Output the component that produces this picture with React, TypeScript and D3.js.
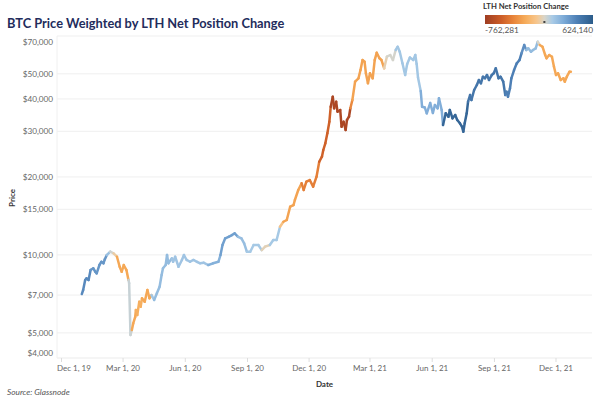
import React from "react";
import * as d3 from "d3";

// ---- data ----
const dates: string[] = [
  "2019-12-31","2020-01-02","2020-01-05","2020-01-07","2020-01-10","2020-01-13","2020-01-17","2020-01-20","2020-01-22","2020-01-26",
  "2020-01-29","2020-02-01","2020-02-03","2020-02-06","2020-02-11","2020-02-16","2020-02-21","2020-02-25","2020-02-28","2020-03-02",
  "2020-03-06","2020-03-09","2020-03-10","2020-03-12","2020-03-14","2020-03-16","2020-03-19","2020-03-20","2020-03-22","2020-03-25",
  "2020-03-27","2020-03-29","2020-04-02","2020-04-06","2020-04-09","2020-04-12","2020-04-16","2020-04-20","2020-04-24","2020-04-27",
  "2020-04-29","2020-05-03","2020-05-05","2020-05-07","2020-05-12","2020-05-14","2020-05-17","2020-05-22","2020-05-27","2020-05-30",
  "2020-06-03","2020-06-08","2020-06-13","2020-06-18","2020-06-23","2020-06-28","2020-07-05","2020-07-12","2020-07-20","2020-07-23",
  "2020-07-26","2020-07-30","2020-08-04","2020-08-09","2020-08-13","2020-08-18","2020-08-23","2020-08-27","2020-08-31","2020-09-05",
  "2020-09-10","2020-09-17","2020-09-22","2020-09-27","2020-10-04","2020-10-09","2020-10-14","2020-10-19","2020-10-24","2020-10-29",
  "2020-11-03","2020-11-08","2020-11-10","2020-11-15","2020-11-20","2020-11-23","2020-11-27","2020-12-02","2020-12-07","2020-12-12",
  "2020-12-16","2020-12-20","2020-12-22","2020-12-25","2020-12-28","2020-12-31","2021-01-02","2021-01-05","2021-01-07","2021-01-10",
  "2021-01-12","2021-01-16","2021-01-18","2021-01-21","2021-01-24","2021-01-26","2021-01-29","2021-01-31","2021-02-03","2021-02-07",
  "2021-02-12","2021-02-15","2021-02-18","2021-02-21","2021-02-23","2021-02-26","2021-03-01","2021-03-05","2021-03-08","2021-03-11",
  "2021-03-15","2021-03-18","2021-03-22","2021-03-26","2021-03-31","2021-04-04","2021-04-08","2021-04-11","2021-04-14","2021-04-18",
  "2021-04-22","2021-04-25","2021-04-29","2021-05-04","2021-05-07","2021-05-09","2021-05-11","2021-05-15","2021-05-17","2021-05-21",
  "2021-05-24","2021-05-29","2021-06-02","2021-06-05","2021-06-09","2021-06-11","2021-06-15","2021-06-17","2021-06-21","2021-06-25",
  "2021-06-27","2021-07-01","2021-07-05","2021-07-08","2021-07-12","2021-07-15","2021-07-17","2021-07-19","2021-07-22","2021-07-24",
  "2021-07-27","2021-07-29","2021-08-02","2021-08-06","2021-08-09","2021-08-12","2021-08-15","2021-08-18","2021-08-21","2021-08-24",
  "2021-08-28","2021-08-31","2021-09-03","2021-09-07","2021-09-10","2021-09-14","2021-09-17","2021-09-19","2021-09-21","2021-09-24",
  "2021-09-26","2021-09-30","2021-10-04","2021-10-08","2021-10-11","2021-10-15","2021-10-18","2021-10-21","2021-10-25","2021-10-28",
  "2021-11-01","2021-11-04","2021-11-07","2021-11-11","2021-11-15","2021-11-17","2021-11-21","2021-11-25","2021-11-28","2021-12-01",
  "2021-12-04","2021-12-08","2021-12-12","2021-12-14","2021-12-17","2021-12-21","2021-12-23",
];

const prices: number[] = [
  7060,7320,8000,8120,8000,8740,8880,8610,8490,9140,
  9410,9280,9610,9990,10290,10140,9840,9000,8610,9140,
  8740,8000,7770,4910,5130,5440,5770,6130,5860,6600,
  6310,6800,6600,7320,6800,7000,6700,7110,7540,8360,
  8880,9140,9990,9280,9700,9410,9840,9000,9560,9990,
  9560,9410,9560,9410,9280,9330,9140,9280,9410,9990,
  10920,11590,11750,11930,12110,11750,11590,11090,10290,10290,
  10920,10920,10440,10760,10920,11420,11420,12850,13430,13640,
  15350,15580,16290,17810,18900,17810,19170,19460,18340,20040,
  22890,23940,25410,26970,29470,32680,37340,40810,36810,39030,
  35720,36270,31250,32680,30350,33180,34170,36810,39630,46640,
  48070,51720,56530,55690,50240,45980,50240,48070,56530,60340,
  57410,56530,52530,58240,59120,56530,61800,63640,60880,54900,
  49480,54580,57830,56530,59120,54580,48410,42930,37340,37100,
  35210,38580,35330,37900,36810,40240,36270,31730,35210,34170,
  36270,33680,34690,33180,32210,31250,29900,32210,35210,39030,
  41430,39630,43310,45280,47340,45980,48750,48070,49480,47340,
  49480,50240,52530,48070,48750,46640,41430,42660,40810,43970,
  48070,51720,54900,56530,60020,64610,61800,62740,60880,61800,
  62740,66530,64610,63640,59120,57410,59120,58240,53280,49480,
  50240,47340,48070,46640,48750,50970,50970,
];

// LTH net position change (BTC) used for the colour of each point
const lthChange: number[] = [
  380000,380000,380000,380000,380000,330000,330000,330000,330000,330000,
  330000,330000,330000,150000,20000,-60000,-260000,-260000,-260000,-260000,
  -260000,40000,40000,30000,-260000,-260000,-260000,-230000,-230000,-230000,
  -230000,-260000,-260000,-260000,-260000,120000,170000,170000,170000,170000,
  170000,170000,170000,170000,130000,130000,130000,130000,130000,130000,
  130000,130000,130000,130000,130000,130000,220000,220000,220000,290000,
  290000,290000,290000,290000,290000,160000,160000,160000,110000,110000,
  110000,110000,-30000,-30000,110000,110000,110000,-120000,-280000,-280000,
  -280000,-280000,-280000,-280000,-420000,-420000,-420000,-420000,-420000,-420000,
  -540000,-540000,-540000,-540000,-540000,-540000,-700000,-700000,-700000,-700000,
  -700000,-700000,-700000,-700000,-700000,-700000,-700000,-380000,-280000,-280000,
  -280000,-280000,-280000,-280000,-280000,-280000,-280000,-280000,-280000,-280000,
  -280000,-280000,-40000,10000,10000,10000,120000,120000,120000,120000,
  120000,120000,120000,120000,120000,120000,120000,230000,230000,230000,
  230000,230000,230000,230000,230000,230000,230000,560000,560000,560000,
  560000,560000,560000,560000,560000,560000,560000,560000,560000,470000,
  470000,470000,470000,470000,470000,470000,470000,470000,470000,470000,
  470000,470000,470000,470000,470000,470000,420000,420000,420000,420000,
  420000,420000,420000,420000,360000,360000,170000,170000,170000,170000,
  170000,0,-260000,-260000,-260000,-260000,-260000,-260000,-260000,-260000,
  -260000,-260000,-260000,-260000,-260000,-260000,-260000,
];

const yTicks: number[] = [4000, 5000, 7000, 10000, 15000, 20000, 30000, 40000, 50000, 70000];
const xTicks: string[] = [
  "2019-12-01","2020-03-01","2020-06-01","2020-09-01","2020-12-01",
  "2021-03-01","2021-06-01","2021-09-01","2021-12-01",
];
const legendMin = -762281;
const legendMax = 624140;

// Orange-Blue diverging palette stops
const paletteValues: number[] = [-762281, -560000, -400000, -250000, -100000, 0, 100000, 250000, 420000, 624140];
const paletteColors: string[] = [
  "#9e3d22", "#cb5c27", "#e8843a", "#f6ab58", "#f7c68c",
  "#d9d5c9", "#a9cbe6", "#7caad7", "#4d7fb5", "#2b5c8a",
];

const FONT = "Lato, 'Noto Sans', sans-serif";

export default function App() {
  const W = 600, H = 400;
  const left = 57, right = 592, top = 36, bottom = 358;
  const parse = d3.utcParse("%Y-%m-%d");

  const x = d3.scaleUtc()
    .domain([parse("2019-12-01")!, parse("2021-12-01")!])
    .range([61.5, 556]);
  const y = d3.scaleLog().domain([4000, 70000]).range([bottom, top]);
  const color = d3.scaleLinear<string>()
    .domain(paletteValues)
    .range(paletteColors)
    .interpolate(d3.interpolateRgb)
    .clamp(true);

  const pts = dates.map((d, i) => ({ x: x(parse(d)!), y: y(prices[i]), v: lthChange[i] }));
  const fmtDate = d3.utcFormat("%b %-d, %y");
  const fmtPrice = (v: number) => "$" + d3.format(",")(v);
  const fmtNum = (v: number) => d3.format(",")(v).replace("\u2212", "-");

  const legX0 = 485, legX1 = 593, legY = 15, legH = 9;
  const legScale = d3.scaleLinear().domain([legendMin, legendMax]).range([legX0, legX1]);
  const gradStops = d3.range(0, 41).map((i) => {
    const v = legendMin + (legendMax - legendMin) * (i / 40);
    return { off: (i / 40) * 100, c: color(v) };
  });

  return (
    <svg width={W} height={H} style={{ position: "fixed", left: 0, top: 0, background: "#fff" }} fontFamily={FONT}>
      <defs>
        <linearGradient id="leg" x1="0" x2="1" y1="0" y2="0">
          {gradStops.map((s, i) => (
            <stop key={i} offset={`${s.off}%`} stopColor={s.c} />
          ))}
        </linearGradient>
        <clipPath id="plot">
          <rect x={left} y={top - 4} width={right - left} height={bottom - top + 8} />
        </clipPath>
      </defs>

      {/* title */}
      <text x={7} y={28} fontSize={12.8} fontWeight={700} fill="#232c5c">
        BTC Price Weighted by LTH Net Position Change
      </text>

      {/* legend */}
      <text x={483} y={9} fontSize={7.7} fontWeight={700} fill="#333">LTH Net Position Change</text>
      <rect x={legX0} y={legY} width={legX1 - legX0} height={legH} fill="url(#leg)" />
      <rect x={legScale(0) - 1} y={legY + legH - 3} width={2} height={2} fill="#444" />
      <text x={legX0} y={33} fontSize={8.3} fill="#555">{fmtNum(legendMin)}</text>
      <text x={legX1} y={33} fontSize={8.3} fill="#555" textAnchor="end">{fmtNum(legendMax)}</text>

      {/* gridlines */}
      {yTicks.map((t) => (
        <line key={t} x1={left} x2={right} y1={y(t)} y2={y(t)} stroke="#efefef" strokeWidth={1} />
      ))}
      <line x1={left} x2={left} y1={top} y2={bottom} stroke="#f0f0f0" />
      <line x1={left} x2={right} y1={bottom} y2={bottom} stroke="#f3f3f3" />

      {/* y labels */}
      {yTicks.map((t) => {
        const yy = Math.max(top + 6, Math.min(bottom - 5, y(t)));
        return (
          <text key={t} x={53} y={yy} dy="0.35em" fontSize={8.2} fill="#666" textAnchor="end">
            {fmtPrice(t)}
          </text>
        );
      })}
      <text transform={`translate(15,198) rotate(-90)`} fontSize={8} fontWeight={700} fill="#333" textAnchor="middle">
        Price
      </text>

      {/* x ticks */}
      {xTicks.map((t, i) => {
        const xx = x(parse(t)!);
        return (
          <g key={t}>
            <line x1={xx} x2={xx} y1={bottom} y2={bottom + 4} stroke="#ddd" />
            <text x={i === 0 ? left : xx} y={371} fontSize={8} fill="#666" textAnchor={i === 0 ? "start" : "middle"}>
              {fmtDate(parse(t)!)}
            </text>
          </g>
        );
      })}
      <text x={(left + right) / 2} y={387} fontSize={8} fontWeight={700} fill="#333" textAnchor="middle">Date</text>

      {/* line */}
      <g clipPath="url(#plot)">
        {pts.slice(0, -1).map((p, i) => (
          <line
            key={i}
            x1={p.x}
            y1={p.y}
            x2={pts[i + 1].x}
            y2={pts[i + 1].y}
            stroke={color(p.v)}
            strokeWidth={2.5}
            strokeLinecap="round"
          />
        ))}
      </g>

      <text x={7} y={395} fontSize={8.3} fontStyle="italic" fill="#555">Source: Glassnode</text>
    </svg>
  );
}
